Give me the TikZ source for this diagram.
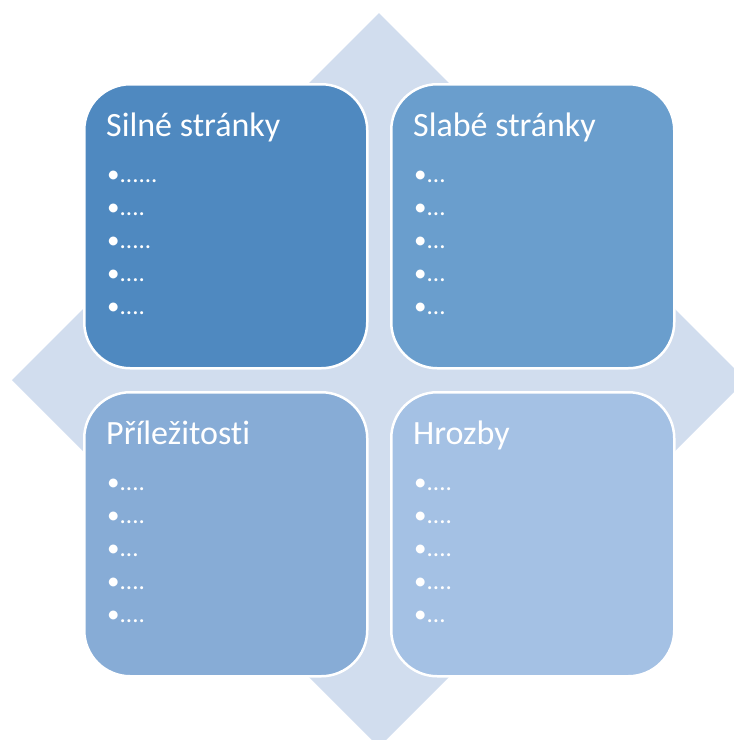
\documentclass[tikz,border=0pt]{standalone}
\usepackage{fontspec}
\setmainfont{Carlito}[Ligatures=CommonOff]
\definecolor{cdiam}{HTML}{D1DDEE}
\definecolor{ctl}{HTML}{4F89C0}
\definecolor{ctr}{HTML}{6A9ECD}
\definecolor{cbl}{HTML}{87ACD6}
\definecolor{cbr}{HTML}{A4C1E4}
\tikzset{
  quad/.style={rectangle, rounded corners=46pt, draw=white, line width=2.5pt,
    minimum width=283pt, minimum height=284pt, inner sep=0pt, anchor=north west},
  ttl/.style={anchor=base west, inner sep=0pt, text=white, font=\fontsize{34}{40}\selectfont},
  itm/.style={anchor=base west, inner sep=0pt, text=white, font=\fontsize{25}{30}\selectfont},
}
\begin{document}
\begin{tikzpicture}[x=1pt,y=-1pt]
\useasboundingbox (0,0) rectangle (734,740);
\begin{scope}
\clip (0,0) rectangle (734,740);
\fill[cdiam] (379,13) -- (746,380) -- (379,747) -- (12,380) -- cycle;
\end{scope}
\node[quad, fill=ctl] (tl) at (83,83) {};
\node[quad, fill=ctr] (tr) at (390,83) {};
\node[quad, fill=cbl] (bl) at (83,391) {};
\node[quad, fill=cbr] (br) at (390,391) {};
\node[ttl] (t1) at (106,136) {Silné stránky};
\node[ttl] (t2) at (413,136) {Slabé stránky};
\node[ttl] (t3) at (106,444) {Příležitosti};
\node[ttl] (t4) at (413,444) {Hrozby};
% top-left
\node[itm] (a1) at (107,182) {•......};
\node[itm] (a2) at (107,215) {•....};
\node[itm] (a3) at (107,248) {•.....};
\node[itm] (a4) at (107,281) {•....};
\node[itm] (a5) at (107,314) {•....};
% top-right
\node[itm] (b1) at (414,182) {•...};
\node[itm] (b2) at (414,215) {•...};
\node[itm] (b3) at (414,248) {•...};
\node[itm] (b4) at (414,281) {•...};
\node[itm] (b5) at (414,314) {•...};
% bottom-left
\node[itm] (c1) at (107,490) {•....};
\node[itm] (c2) at (107,523) {•....};
\node[itm] (c3) at (107,556) {•...};
\node[itm] (c4) at (107,589) {•....};
\node[itm] (c5) at (107,622) {•....};
% bottom-right
\node[itm] (d1) at (414,490) {•....};
\node[itm] (d2) at (414,523) {•....};
\node[itm] (d3) at (414,556) {•....};
\node[itm] (d4) at (414,589) {•....};
\node[itm] (d5) at (414,622) {•...};
\end{tikzpicture}
\end{document}
